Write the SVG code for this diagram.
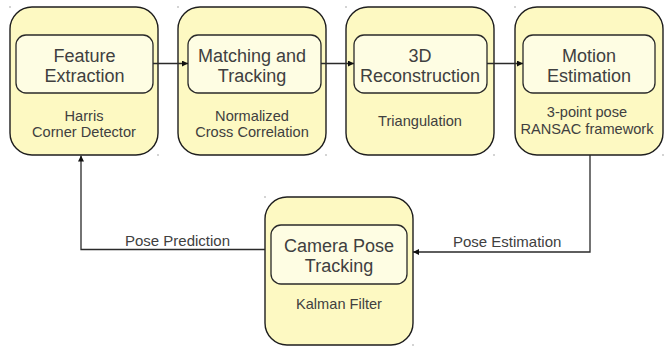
<svg xmlns="http://www.w3.org/2000/svg" width="670" height="348" viewBox="0 0 670 348">
  <defs>
    <marker id="arrow" viewBox="0 0 10 10" refX="10" refY="5" markerWidth="6" markerHeight="6" markerUnits="userSpaceOnUse" orient="auto">
      <path d="M0,0 L10,5 L0,10 z" fill="#111"/>
    </marker>
    <style>
      .outer { fill: #fdf9c2; stroke: #1e1e1e; stroke-width: 1.4; }
      .inner { fill: #fefde3; stroke: #2a2a2a; stroke-width: 1.3; }
      .title { font-family: "Liberation Sans", Arial, sans-serif; font-size: 18px; fill: #404040; text-anchor: middle; }
      .sub { font-family: "Liberation Sans", Arial, sans-serif; font-size: 14.6px; fill: #404040; text-anchor: middle; }
      .lbl { font-family: "Liberation Sans", Arial, sans-serif; font-size: 15px; fill: #404040; }
      .conn { fill: none; stroke: #2a2a2a; stroke-width: 1.3; }
      .dot { fill: #555; }
    </style>
  </defs>

  <!-- Feature Extraction -->
  <g id="feature-extraction">
    <rect class="outer" x="10" y="7" width="148" height="148" rx="22"/>
    <rect class="inner" x="16" y="35" width="137" height="58" rx="10"/>
    <text class="title" x="84.5" y="62">Feature</text>
    <text class="title" x="84.5" y="82">Extraction</text>
    <text class="sub" x="84" y="121">Harris</text>
    <text class="sub" x="84" y="137">Corner Detector</text>
    <rect class="dot" x="9.5" y="6.5" width="1" height="1"/>
    <rect class="dot" x="157.5" y="154.5" width="1" height="1"/>
  </g>

  <!-- Matching and Tracking -->
  <g id="matching-tracking">
    <rect class="outer" x="178" y="7" width="148" height="148" rx="22"/>
    <rect class="inner" x="188" y="35" width="133" height="58" rx="10"/>
    <text class="title" x="252" y="62">Matching and</text>
    <text class="title" x="252" y="82">Tracking</text>
    <text class="sub" x="252" y="121">Normalized</text>
    <text class="sub" x="252" y="137">Cross Correlation</text>
    <rect class="dot" x="177.5" y="6.5" width="1" height="1"/>
    <rect class="dot" x="325.5" y="154.5" width="1" height="1"/>
  </g>

  <!-- 3D Reconstruction -->
  <g id="reconstruction">
    <rect class="outer" x="346" y="7" width="148" height="148" rx="22"/>
    <rect class="inner" x="354" y="35" width="133" height="58" rx="10"/>
    <text class="title" x="420" y="62">3D</text>
    <text class="title" x="420" y="82">Reconstruction</text>
    <text class="sub" x="420" y="126">Triangulation</text>
    <rect class="dot" x="345.5" y="6.5" width="1" height="1"/>
    <rect class="dot" x="493.5" y="154.5" width="1" height="1"/>
  </g>

  <!-- Motion Estimation -->
  <g id="motion-estimation">
    <rect class="outer" x="515" y="7" width="148" height="148" rx="22"/>
    <rect class="inner" x="523" y="35" width="132" height="58" rx="10"/>
    <text class="title" x="589" y="62">Motion</text>
    <text class="title" x="589" y="82">Estimation</text>
    <text class="sub" x="587" y="117">3-point pose</text>
    <text class="sub" x="587" y="134">RANSAC framework</text>
    <rect class="dot" x="514.5" y="6.5" width="1" height="1"/>
    <rect class="dot" x="662.5" y="154.5" width="1" height="1"/>
  </g>

  <!-- Camera Pose Tracking -->
  <g id="camera-pose-tracking">
    <rect class="outer" x="265" y="197" width="148" height="148" rx="22"/>
    <rect class="inner" x="271" y="225" width="136" height="59" rx="10"/>
    <text class="title" x="339" y="252">Camera Pose</text>
    <text class="title" x="339" y="272">Tracking</text>
    <text class="sub" x="339" y="309">Kalman Filter</text>
    <rect class="dot" x="264.5" y="196.5" width="1" height="1"/>
    <rect class="dot" x="412.5" y="344.5" width="1" height="1"/>
  </g>

  <!-- connectors, drawn over the box edges they cross -->
  <g id="connectors">
    <line class="conn" x1="153" y1="63.5" x2="188" y2="63.5" marker-end="url(#arrow)"/>
    <line class="conn" x1="321" y1="63.5" x2="354" y2="63.5" marker-end="url(#arrow)"/>
    <line class="conn" x1="487" y1="63.5" x2="523" y2="63.5" marker-end="url(#arrow)"/>
    <polyline class="conn" points="590,155 590,252 413,252" marker-end="url(#arrow)"/>
    <polyline class="conn" points="265,249.5 81,249.5 81,155.5" marker-end="url(#arrow)"/>
    <text class="lbl" x="453" y="247">Pose Estimation</text>
    <text class="lbl" x="125" y="246">Pose Prediction</text>
  </g>
</svg>
